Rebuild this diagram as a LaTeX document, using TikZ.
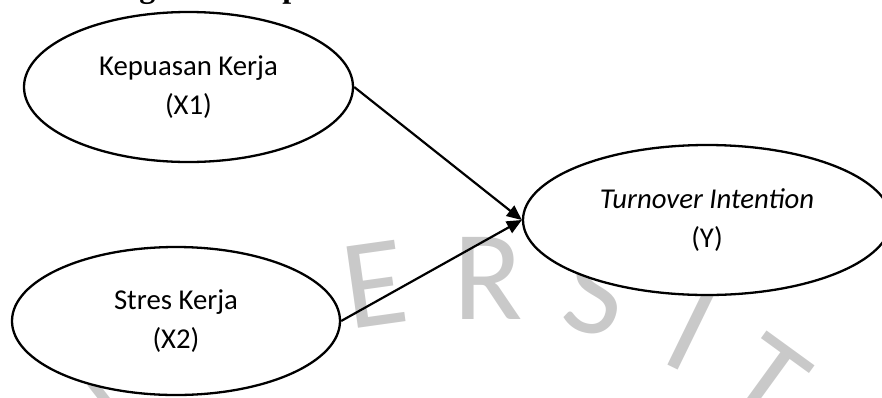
\documentclass[tikz,border=0pt]{standalone}
\usepackage{fontspec}
\setmainfont{Carlito}
\newfontfamily\headfont{Liberation Serif}
\usetikzlibrary{shapes.geometric,arrows.meta}
\tikzset{
  construct/.style={ellipse, draw=black, line width=2.3pt, fill=white, inner sep=0pt,
    align=center, font=\fontsize{28.75pt}{39pt}\selectfont},
  link/.style={line width=2.2pt, -{Triangle[length=15pt,width=13pt]}},
  wm/.style={text=black!21, inner sep=0pt, font=\fontsize{128pt}{128pt}\selectfont}
}
\begin{document}
\begin{tikzpicture}[x=1pt,y=-1pt]
\useasboundingbox (0,0) rectangle (882,397);
\begin{scope}
\clip (0,0) rectangle (882,397);
% cut-off heading
\node[anchor=base west, inner sep=0pt, font=\headfont\bfseries\fontsize{32pt}{38pt}\selectfont] (head) at (52,-2.5) {Kerangka Konsep};
% watermark
\node[wm, rotate=38] (wN) at (96,432) {N};
\node[wm, rotate=8] (wE) at (375,284) {E};
\node[wm, rotate=0] (wR) at (488,278) {R};
\node[wm, rotate=-12] (wS) at (596,292) {S};
\node[wm, rotate=-26] (wI) at (691,331) {I};
\node[wm, rotate=-36] (wT) at (767,382) {T};
% constructs
\node[construct, minimum width=329pt, minimum height=150pt] (x1) at (188.5,87) {Kepuasan Kerja\\(X1)};
\node[construct, minimum width=328pt, minimum height=148pt] (x2) at (176,321) {Stres Kerja\\(X2)};
\node[construct, minimum width=368pt, minimum height=150pt] (y) at (707,220) {\itshape Turnover Intention\\(Y)};
% paths
\draw[link] (x1.east) -- (y.west);
\draw[link] (x2.east) -- (y.west);
\end{scope}
\end{tikzpicture}
\end{document}
